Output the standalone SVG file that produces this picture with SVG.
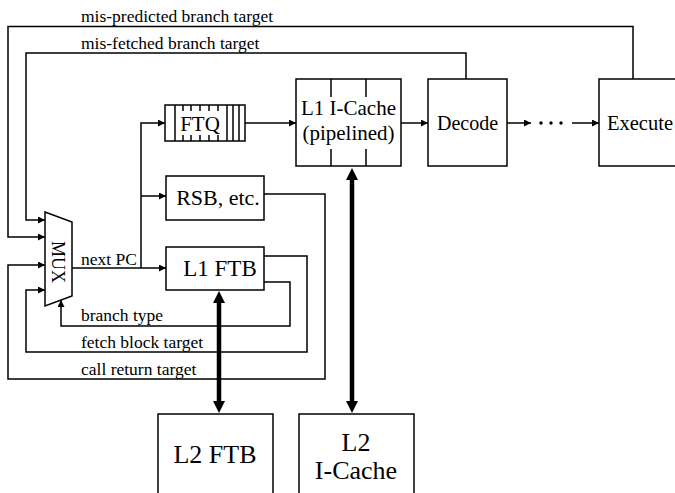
<svg xmlns="http://www.w3.org/2000/svg" width="675" height="493" viewBox="0 0 675 493">
<style>
text{font-family:"Liberation Serif","Times New Roman",serif;fill:#000}
.box{fill:#fff;stroke:#000;stroke-width:1.5}
.ln{fill:none;stroke:#000;stroke-width:1.5}
.c{fill:none;stroke:#000;stroke-width:1.5}
.arr{marker-end:url(#a)}
.thick{fill:none;stroke:#000;stroke-width:4.5;marker-start:url(#b);marker-end:url(#b)}
.lbl{font-size:17.5px}
.bl{font-size:21px;text-anchor:middle}
.big{font-size:26px;text-anchor:middle}
</style>
<defs>
<marker id="a" viewBox="0 0 10 10" refX="10" refY="5" markerWidth="8.5" markerHeight="7" markerUnits="userSpaceOnUse" orient="auto"><path d="M0,0 L10,5 L0,10 z" fill="#000"/></marker>
<marker id="b" viewBox="0 0 10 10" refX="0" refY="5" markerWidth="13" markerHeight="12" markerUnits="userSpaceOnUse" orient="auto-start-reverse"><path d="M0,0 L10,5 L0,10 z" fill="#000"/></marker>
</defs>
<rect width="675" height="493" fill="#fff"/>

<g id="connectors">
<path class="c arr" d="M633,79 V26.5 H8 V237 H45"/>
<path class="c arr" d="M466,79 V53 H26 V220 H45"/>
<path class="c arr" d="M264,194 H325 V379 H8 V265 H45"/>
<path class="c arr" d="M264,256 H307 V352 H26 V290 H45"/>
<path class="c arr" d="M264,282 H290 V326 H61 V300"/>
<path class="c arr" d="M72,268 H166"/>
<path class="c arr" d="M141,268 V123 H165"/>
<path class="c arr" d="M141,196 H166"/>
<path class="c arr" d="M245,123 H296"/>
<path class="c arr" d="M401,123 H428"/>
<path class="c arr" d="M507,123 H531"/>
<path class="c arr" d="M572,123 H599"/>
<circle cx="541" cy="123" r="1.7"/>
<circle cx="551" cy="123" r="1.7"/>
<circle cx="561" cy="123" r="1.7"/>
<line class="thick" x1="219" y1="303" x2="219" y2="401"/>
<line class="thick" x1="352" y1="180" x2="352" y2="401"/>
<text class="lbl" x="81" y="22">mis-predicted branch target</text>
<text class="lbl" x="81" y="49">mis-fetched branch target</text>
<text class="lbl" x="81" y="265">next PC</text>
<text class="lbl" x="81" y="321">branch type</text>
<text class="lbl" x="81" y="348">fetch block target</text>
<text class="lbl" x="81" y="375">call return target</text>
</g>

<g id="mux">
<path class="box" d="M45,212 L72,222 L72,296 L45,306 Z"/>
<text transform="translate(52,262) rotate(90)" font-size="18" text-anchor="middle">MUX</text>
</g>

<g id="ftq">
<rect class="box" x="165" y="105" width="80" height="36"/>
<path class="ln" d="M175,105 V141 M227,105 V141 M233,105 V141 M239,105 V141 M183,105 V111 M191,105 V111 M200,105 V111 M209,105 V111 M218,105 V111 M183,135 V141 M191,135 V141 M200,135 V141 M209,135 V141 M218,135 V141"/>
<text x="200" y="131" font-size="21" text-anchor="middle">FTQ</text>
</g>

<g id="icache">
<rect class="box" x="296" y="79" width="105" height="87"/>
<path class="ln" d="M331,79 V97 M366,79 V97 M331,149 V166 M366,149 V166"/>
<text class="bl" x="348.5" y="115" font-size="20">L1 I-Cache</text>
<text class="bl" x="348.5" y="140" font-size="20">(pipelined)</text>
</g>

<g id="decode">
<rect class="box" x="428" y="79" width="79" height="87"/>
<text class="bl" x="467.5" y="130" style="font-size:20px">Decode</text>
</g>

<g id="execute">
<rect class="box" x="599" y="79" width="110" height="87"/>
<text x="607" y="130" font-size="20.5">Execute</text>
</g>

<g id="rsb">
<rect class="box" x="166" y="176" width="98" height="44"/>
<text class="bl" x="218" y="205" style="font-size:22px">RSB, etc.</text>
</g>

<g id="l1ftb">
<rect class="box" x="166" y="247" width="98" height="43"/>
<text class="bl" x="220" y="276" style="font-size:23px">L1 FTB</text>
</g>

<g id="l2ftb">
<rect class="box" x="158" y="414" width="115" height="90"/>
<text class="big" x="215" y="463">L2 FTB</text>
</g>

<g id="l2icache">
<rect class="box" x="299" y="414" width="115" height="90"/>
<text class="big" x="356" y="451">L2</text>
<text class="big" x="356" y="479">I-Cache</text>
</g>
</svg>
